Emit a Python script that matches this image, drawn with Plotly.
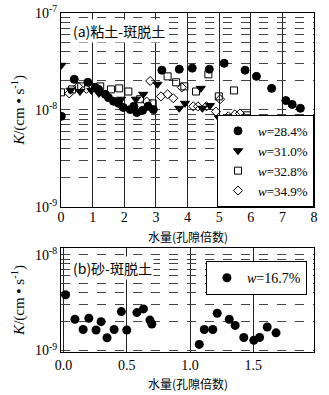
import numpy as np
import plotly.graph_objs as go

# panel (a) clay-bentonite, K in units of 1e-8 cm/s
x_284 = [0.01, 0.42, 0.85, 1.08, 1.19, 1.40, 1.50, 1.66, 1.82, 1.97, 2.19, 2.30, 2.40, 2.58,
         2.75, 2.92, 3.19, 3.74, 4.15, 4.69, 5.16, 5.82, 6.18, 6.66, 7.11, 7.31, 7.57]
k_284 = [0.86, 2.07, 1.93, 1.71, 1.63, 1.45, 1.34, 1.23, 1.17, 1.06, 1.01, 1.09, 0.94, 0.99,
         1.09, 1.01, 2.57, 2.63, 2.70, 2.63, 3.03, 2.57, 2.22, 1.67, 1.25, 1.14, 1.04]
x_310 = [0.01, 0.30, 0.60, 0.96, 1.20, 1.90, 2.37, 2.60, 3.05, 3.74, 3.92, 4.42, 4.47, 4.71,
         4.99, 5.13, 5.30, 5.38]
k_310 = [2.89, 1.60, 1.55, 1.59, 1.48, 1.29, 1.29, 1.45, 1.84, 1.04, 1.17, 1.67, 1.04, 1.11,
         0.83, 0.78, 0.69, 0.69]
x_328 = [0.00, 0.35, 0.64, 1.00, 1.24, 1.58, 1.84, 2.13, 2.50, 2.90, 3.37, 3.64, 3.90, 4.27,
         4.66, 4.99, 5.47, 5.88, 6.10, 6.26, 6.37]
k_328 = [1.52, 1.63, 1.75, 1.71, 1.75, 1.63, 1.67, 1.55, 1.29, 1.17, 2.22, 1.93, 1.75, 1.55,
         2.33, 1.38, 1.59, 0.88, 0.71, 0.67, 0.64]
x_349 = [0.26, 0.54, 0.80, 2.71, 2.82, 3.16, 3.37, 3.55, 3.82, 4.18, 4.33, 4.60, 4.90, 5.03,
         5.29, 5.50, 5.66]
k_349 = [1.48, 1.75, 1.65, 1.22, 1.99, 1.38, 1.45, 1.32, 1.71, 1.09, 1.09, 1.09, 0.96, 1.29,
         0.86, 0.90, 0.92]

# panel (b) sand-bentonite, K in units of 1e-9 cm/s
x_167 = [0.016, 0.09, 0.155, 0.20, 0.257, 0.297, 0.344, 0.40, 0.457, 0.50, 0.58, 0.632, 0.683,
         0.698, 1.073, 1.113, 1.18, 1.215, 1.31, 1.357, 1.425, 1.504, 1.55, 1.61, 1.68]
k_167 = [3.82, 2.12, 1.66, 2.17, 1.64, 2.00, 1.36, 1.66, 2.55, 1.64, 2.49, 2.72, 2.08,
         1.89, 1.16, 1.66, 1.66, 2.45, 2.12, 1.83, 1.37, 1.28, 1.37, 1.76, 1.53]

SERIF = "Liberation Serif"
CJK = "Noto Sans CJK SC"


def log_ticks(lo, hi):
    vals, text = [], []
    for e in range(lo, hi):
        for m in range(1, 10):
            vals.append(m * 10.0 ** e)
            text.append("10<sup>%d</sup>" % e if m == 1 else "")
    vals.append(10.0 ** hi)
    text.append("10<sup>%d</sup>" % hi)
    return vals, text


fig = go.Figure()
a_series = [
    (x_284, k_284, "circle", 8, "<i>w</i>=28.4%"),
    (x_310, k_310, "triangle-down", 8, "<i>w</i>=31.0%"),
    (x_328, k_328, "square-open", 7, "<i>w</i>=32.8%"),
    (x_349, k_349, "diamond-open", 7, "<i>w</i>=34.9%"),
]
for xs, ks, sym, sz, name in a_series:
    fig.add_scatter(x=xs, y=np.array(ks) * 1e-8, mode="markers", name=name,
                    marker=dict(symbol=sym, size=sz, color="black",
                                line=dict(color="black", width=1)),
                    xaxis="x", yaxis="y", legend="legend")

fig.add_scatter(x=x_167, y=np.array(k_167) * 1e-9, mode="markers", name="<i>w</i>=16.7%",
                marker=dict(symbol="circle", size=9, color="black"),
                xaxis="x2", yaxis="y2", legend="legend2")

tv_a, tt_a = log_ticks(-9, -7)
tv_b, tt_b = log_ticks(-9, -8)

axis_common = dict(showline=True, linecolor="black", linewidth=1, mirror=True,
                   ticks="", zeroline=False, automargin=False,
                   tickfont=dict(family=SERIF, size=14, color="black"))
grid_x = dict(showgrid=True, gridcolor="#222", gridwidth=1)
grid_y = dict(showgrid=True, gridcolor="#444", gridwidth=1, griddash="dash")
xtitle_font = dict(family=CJK, size=12, color="black")
ytitle_font = dict(family=SERIF, size=15, color="black")
ytitle = "<i>K</i>/(cm • s<sup>-1</sup>)"

fig.update_layout(
    width=329, height=395,
    margin=dict(l=61, r=15, t=13, b=43),
    plot_bgcolor="white", paper_bgcolor="white",
    xaxis=dict(domain=[0, 1], anchor="y", range=[0, 8], tickvals=list(range(9)),
               ticklabelstandoff=-3, **grid_x, **axis_common),
    yaxis=dict(domain=[0.428, 1], anchor="x", type="log", range=[-9, -7],
               tickvals=tv_a, ticktext=tt_a,
               title=dict(text=ytitle, font=ytitle_font, standoff=6),
               **grid_y, **axis_common),
    xaxis2=dict(domain=[0, 1], anchor="y2", range=[-0.02, 1.98],
                tickvals=[0, 0.5, 1, 1.5, 2], ticktext=["0.0", "0.5", "1.0", "1.5", "2.0"],
                **grid_x, **axis_common),
    yaxis2=dict(domain=[0, 0.307], anchor="x2", type="log", range=[-9.015, -7.93],
                tickvals=tv_b, ticktext=tt_b,
                title=dict(text=ytitle, font=ytitle_font, standoff=6),
                **grid_y, **axis_common),
    legend=dict(x=1, y=0.428, xanchor="right", yanchor="bottom",
                bgcolor="white", bordercolor="black", borderwidth=1,
                font=dict(family=SERIF, size=13, color="black"),
                tracegroupgap=0, itemwidth=30),
    legend2=dict(x=0.972, y=0.268, xanchor="right", yanchor="top",
                 bgcolor="white", bordercolor="black", borderwidth=1,
                 font=dict(family=SERIF, size=14, color="black"), itemwidth=30),
    annotations=[
        dict(text="(a)粘土-斑脱土", x=0.04, y=0.97, xref="x domain", yref="y domain",
             xanchor="left", yanchor="top", showarrow=False, bgcolor="white",
             font=dict(family=CJK, size=14, color="black")),
        dict(text="(b)砂-斑脱土", x=0.04, y=0.92, xref="x2 domain", yref="y2 domain",
             xanchor="left", yanchor="top", showarrow=False, bgcolor="white",
             font=dict(family=CJK, size=14, color="black")),
        dict(text="水量(孔隙倍数)", x=0.5, y=0.341, xref="paper", yref="paper",
             xanchor="center", yanchor="middle", showarrow=False, font=xtitle_font),
        dict(text="水量(孔隙倍数)", x=0.5, y=-0.093, xref="paper", yref="paper",
             xanchor="center", yanchor="middle", showarrow=False, font=xtitle_font),
    ],
)

# page body has an 8px default margin; drop it so the figure sits at the corner
fig.write_html("out.html", config={"displayModeBar": False},
               post_script="document.body.style.margin='0';")
